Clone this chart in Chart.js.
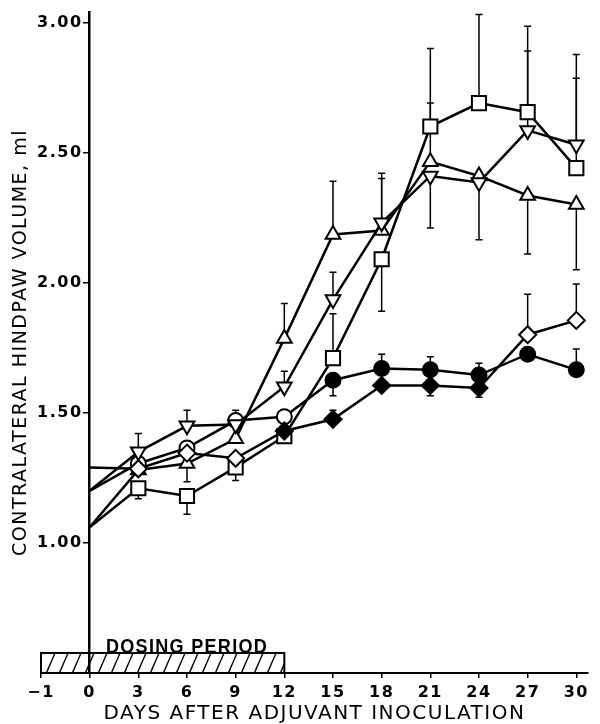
<!DOCTYPE html>
<html>
<head>
<meta charset="utf-8">
<script src="https://cdn.jsdelivr.net/npm/chart.js@4.4.1/dist/chart.umd.min.js"></script>
<style>
  html, body { margin: 0; padding: 0; background: #fff; }
  #wrap { width: 600px; height: 724px; position: relative; }
</style>
</head>
<body>
<div id="wrap"><canvas id="c"></canvas></div>
<script>
// ---------------- data ----------------
const days = [0, 3, 6, 9, 12, 15, 18, 21, 24, 27, 30];

// open squares
const squareVals = [1.06, 1.21, 1.18, 1.29, 1.41, 1.71, 2.09, 2.60, 2.69, 2.655, 2.44];
const squareErrTop = [null, null, null, null, null, 1.88, null, 2.90, 3.03, 2.985, 2.785];
const squareErrBot = [null, 1.17, 1.11, 1.24, null, null, 1.89, null, null, null, null];

// open down-triangles
const downVals = [1.20, 1.35, 1.45, 1.455, 1.60, 1.935, 2.23, 2.41, 2.385, 2.585, 2.53];
const downErrTop = [null, 1.42, 1.51, null, 1.66, 2.04, 2.42, null, null, 2.89, 2.877];
const downErrBot = [null, null, null, null, null, null, null, 2.21, null, null, null];

// open up-triangles
const upVals = [1.06, 1.28, 1.305, 1.40, 1.785, 2.185, 2.20, 2.465, 2.41, 2.335, 2.30];
const upErrTop = [null, null, null, null, 1.92, 2.39, 2.40, 2.69, null, null, null];
const upErrBot = [null, null, 1.235, null, null, null, null, null, 2.165, 2.11, 2.05];

// circles (filled = significant)
const circleVals = [1.20, 1.305, 1.365, 1.47, 1.485, 1.625, 1.67, 1.665, 1.645, 1.725, 1.665];
const circleErrTop = [null, null, null, 1.51, null, null, 1.725, 1.715, 1.69, null, 1.745];
const circleErrBot = [null, null, null, null, null, 1.565, null, null, null, null, null];
const circleFilled = [0, 0, 0, 0, 0, 1, 1, 1, 1, 1, 1];

// diamonds (filled = significant)
const diamondVals = [1.29, 1.285, 1.345, 1.325, 1.43, 1.475, 1.605, 1.605, 1.595, 1.80, 1.855];
const diamondErrTop = [null, null, null, null, null, 1.51, null, null, null, 1.955, 1.995];
const diamondErrBot = [null, null, null, null, null, null, null, 1.565, 1.56, null, null];
const diamondFilled = [0, 0, 0, 0, 1, 1, 1, 1, 1, 0, 0];

const xTickDays = [-1, 0, 3, 6, 9, 12, 15, 18, 21, 24, 27, 30];
const xTickLabels = ['\u22121', '0', '3', '6', '9', '12', '15', '18', '21', '24', '27', '30'];
const yTickValues = [1.0, 1.5, 2.0, 2.5, 3.0];
const yTickLabels = ['1.00', '1.50', '2.00', '2.50', '3.00'];

const dosingDays = [-1, 12];
const dosingBandY = [0.5, 0.577];
const dosingLabel = 'DOSING PERIOD';
const xTitle = 'DAYS AFTER ADJUVANT INOCULATION';
const yTitle = 'CONTRALATERAL HINDPAW VOLUME, ml';

// axis break: the -1..0 interval is drawn as wide as one 3-day step
const axisPos = d => (d < 0 ? d * 3 : d);

// ---------------- chart ----------------
const FONT = "'DejaVu Sans', sans-serif";

function series(vals, style, radius, rotation, filled, errTop, errBot) {
  return {
    type: 'line',
    xAxisID: 'x',
    yAxisID: 'y',
    data: days.map((d, i) => ({ x: axisPos(d), y: vals[i] })),
    borderColor: '#000',
    borderWidth: 2.5,
    tension: 0,
    fill: false,
    pointStyle: style,
    pointRotation: rotation,
    // no marker at day 0 (lines start on the axis)
    pointRadius: days.map(d => (d === 0 ? 0 : radius)),
    pointBorderWidth: 2,
    pointBorderColor: '#000',
    pointBackgroundColor: vals.map((v, i) => (filled && filled[i] ? '#000' : '#fff')),
    errTop: errTop,
    errBot: errBot
  };
}

// first dataset is drawn on top
const datasets = [
  series(downVals, 'triangle', 8.5, 180, null, downErrTop, downErrBot),
  series(diamondVals, 'rectRot', 8.5, 0, diamondFilled, diamondErrTop, diamondErrBot),
  series(squareVals, 'rect', 10, 0, null, squareErrTop, squareErrBot),
  series(upVals, 'triangle', 8.5, 0, null, upErrTop, upErrBot),
  series(circleVals, 'circle', 7.5, 0, circleFilled, circleErrTop, circleErrBot)
];

// hatch pattern for dosing bar
function makeHatch() {
  const c = document.createElement('canvas');
  c.width = 13; c.height = 30;
  const g = c.getContext('2d');
  g.strokeStyle = '#000';
  g.lineWidth = 1.4;
  for (const off of [-13, 0, 13]) {
    g.beginPath();
    g.moveTo(off, 30);
    g.lineTo(off + 13, 0);
    g.stroke();
  }
  return g.createPattern(c, 'repeat');
}

const letterSpacingPlugin = {
  id: 'letterSpacing',
  beforeDraw(chart) { chart.ctx.letterSpacing = '1.5px'; }
};

const errorBarPlugin = {
  id: 'errorBars',
  beforeDatasetsDraw(chart) {
    const ctx = chart.ctx, xs = chart.scales.x, ys = chart.scales.y;
    ctx.save();
    ctx.strokeStyle = '#000';
    ctx.lineWidth = 1.5;
    chart.data.datasets.forEach(ds => {
      if (!ds.errTop) return;
      ds.data.forEach((p, i) => {
        [ds.errTop[i], ds.errBot[i]].forEach(end => {
          if (end == null) return;
          const px = xs.getPixelForValue(p.x);
          const py = ys.getPixelForValue(p.y);
          const pe = ys.getPixelForValue(end);
          ctx.beginPath();
          ctx.moveTo(px, py);
          ctx.lineTo(px, pe);
          ctx.moveTo(px - 3.5, pe);
          ctx.lineTo(px + 3.5, pe);
          ctx.stroke();
        });
      });
    });
    ctx.restore();
  }
};

const dosingPlugin = {
  id: 'dosing',
  beforeDatasetsDraw(chart) {
    const ctx = chart.ctx, xs = chart.scales.x, ys = chart.scales.y;
    const x1 = xs.getPixelForValue(axisPos(dosingDays[0]));
    const x2 = xs.getPixelForValue(axisPos(dosingDays[1]));
    const yb = ys.getPixelForValue(dosingBandY[0]);
    const yt = ys.getPixelForValue(dosingBandY[1]);
    ctx.save();
    ctx.fillStyle = makeHatch();
    ctx.fillRect(x1, yt, x2 - x1, yb - yt);
    ctx.strokeStyle = '#000';
    ctx.lineWidth = 2;
    ctx.strokeRect(x1, yt, x2 - x1, yb - yt);
    ctx.fillStyle = '#000';
    ctx.font = "bold 21px 'Liberation Sans', Arial, sans-serif";
    ctx.textAlign = 'left';
    ctx.textBaseline = 'alphabetic';
    ctx.translate(xs.getPixelForValue(1), yt);
    ctx.scale(0.86, 1);
    ctx.fillText(dosingLabel, 0, 0);
    ctx.restore();
  }
};

new Chart(document.getElementById('c'), {
  type: 'line',
  data: { datasets },
  options: {
    responsive: true,
    maintainAspectRatio: false,
    animation: false,
    layout: { padding: { top: 10, right: 0, bottom: 0, left: 0 } },
    plugins: { legend: { display: false }, tooltip: { enabled: false } },
    scales: {
      x: {
        type: 'linear',
        position: 'bottom',
        min: axisPos(-1),
        max: 30.72,
        afterBuildTicks: s => { s.ticks = xTickDays.map(d => ({ value: axisPos(d) })); },
        afterFit: s => { s.height = 51; },
        ticks: {
          autoSkip: false, maxRotation: 0, color: '#000', padding: 5,
          font: { family: FONT, size: 16, weight: 'bold' },
          callback: (v, i) => xTickLabels[i]
        },
        grid: { drawOnChartArea: false, drawTicks: true, tickLength: 5, color: '#000', lineWidth: 1.5 },
        border: { display: true, color: '#000', width: 2 },
        title: {
          display: true, text: xTitle, color: '#000',
          font: { family: FONT, size: 20, lineHeight: 1 },
          padding: { top: 0, bottom: 0 }
        }
      },
      y: {
        type: 'linear',
        position: { x: 0 },
        min: 0.5,
        max: 3.04,
        afterBuildTicks: s => { s.ticks = yTickValues.map(v => ({ value: v })); },
        afterFit: s => { s.width = 0; },
        ticks: {
          autoSkip: false, color: '#000', padding: 0,
          font: { family: FONT, size: 16, weight: 'bold' },
          callback: (v, i) => yTickLabels[i] + ' '
        },
        grid: { drawOnChartArea: false, drawTicks: true, tickLength: 5, color: '#000', lineWidth: 1.5 },
        border: { display: true, color: '#000', width: 2.5 }
      },
      yTitle: {
        type: 'linear',
        position: 'left',
        min: 0.5,
        max: 3.04,
        afterFit: s => { s.width = 41; },
        ticks: { display: false },
        grid: { display: false },
        border: { display: false },
        title: {
          display: true, text: yTitle, color: '#000',
          font: { family: FONT, size: 19, lineHeight: 1 },
          padding: { top: 11.5, bottom: 0 }
        }
      }
    }
  },
  plugins: [letterSpacingPlugin, errorBarPlugin, dosingPlugin]
});
</script>
</body>
</html>
